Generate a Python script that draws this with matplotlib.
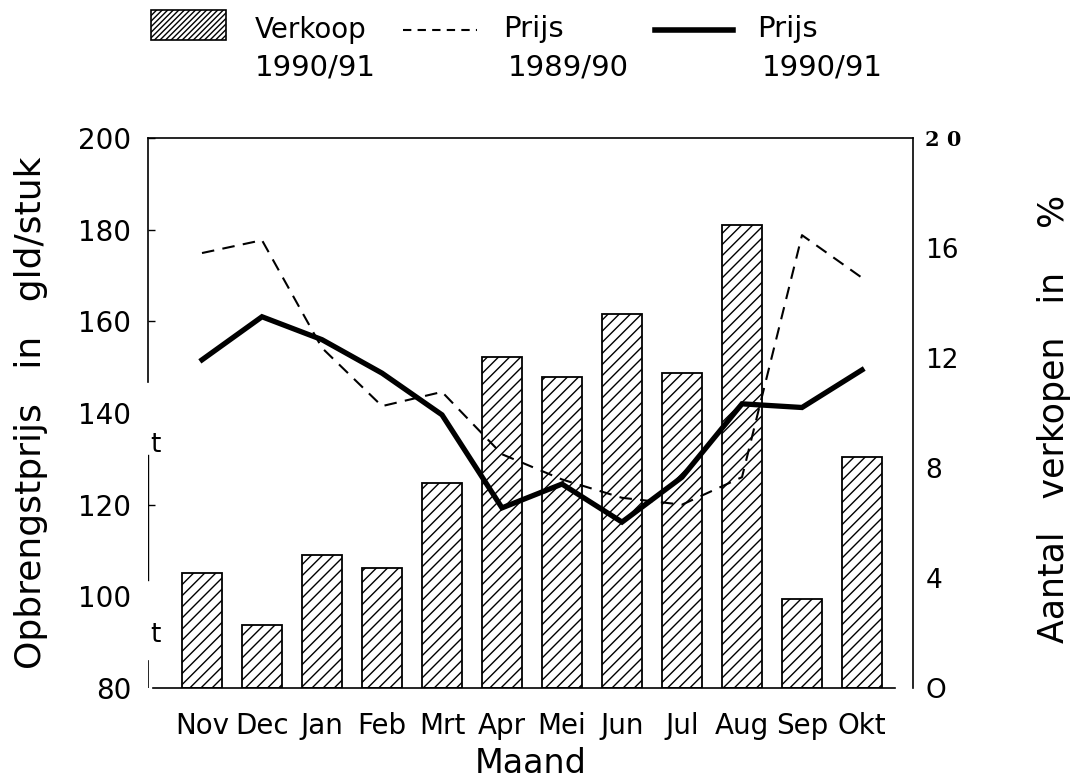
import matplotlib
matplotlib.use("Agg")
import matplotlib.pyplot as plt
from matplotlib.patches import Rectangle
from matplotlib.lines import Line2D

months = ['Nov', 'Dec', 'Jan', 'Feb', 'Mrt', 'Apr', 'Mei', 'Jun', 'Jul', 'Aug', 'Sep', 'Okt']
verkoop_9091 = [4.2, 2.3, 4.85, 4.35, 7.45, 12.05, 11.3, 13.6, 11.45, 16.85, 3.25, 8.4]
prijs_8990 = [174.9, 177.7, 154.2, 141.5, 144.6, 131.0, 125.5, 121.5, 120.0, 126.0, 178.8, 169.5]
prijs_9091 = [151.6, 161.0, 156.0, 148.7, 139.6, 119.3, 124.5, 116.2, 126.0, 142.0, 141.2, 149.4]
left_ticks = [80, 100, 120, 140, 160, 180, 200]
right_ticks = [0, 4, 8, 12, 16, 20]
right_labels = ['O', '4', '8', '12', '16', '2 0']

NARROW = ['Liberation Sans Narrow', 'DejaVu Sans Condensed', 'DejaVu Sans']
plt.rcParams['font.family'] = ['DejaVu Sans']

fig = plt.figure(figsize=(10.76, 7.8), dpi=100)
ax = fig.add_axes([148/1076, 1-688/780, (913-148)/1076, (688-138)/780])
ax2 = ax.twinx()

x = list(range(len(months)))

# bars (right axis)
plt.rcParams['hatch.linewidth'] = 1.0
ax2.bar(x, verkoop_9091, width=0.67, color='white', edgecolor='black',
        linewidth=1.3, hatch='///', zorder=2)
ax2.set_ylim(0, 20)
ax2.set_yticks(right_ticks)
ax2.set_yticklabels(right_labels)
ax2.tick_params(axis='y', length=0, pad=9, labelsize=19)
lab = ax2.get_yticklabels()[-1]
lab.set_fontfamily('DejaVu Serif')
lab.set_fontweight('bold')
lab.set_fontsize(15)
ax2.set_ylabel('Aantal   verkopen   in    %', fontsize=25)
ax2.yaxis.set_label_coords(1.162, 0.49)

# lines (left axis)
ax.set_zorder(ax2.get_zorder() + 1)
ax.patch.set_visible(False)
ax.plot(x, prijs_8990, color='black', linewidth=1.5, linestyle=(0, (6, 4)))
ax.plot(x, prijs_9091, color='black', linewidth=3.8, solid_joinstyle='miter')
ax.set_ylim(80, 200)
ax.set_xlim(-0.9, 11.85)
ax.set_yticks(left_ticks)
ax.tick_params(axis='y', direction='in', length=5, width=1, pad=12, labelsize=20)
ax.set_xticks(x)
ax.set_xticklabels(months, fontfamily=NARROW, fontsize=20)
ax.tick_params(axis='x', length=0, pad=17)
ax.set_xlabel('Maand', fontsize=24, labelpad=5)
ax.set_ylabel('Opbrengstprijs   in   gld/stuk', fontsize=26, labelpad=22)

# broken (scanned) left axis
for sp in ['left', 'right', 'top', 'bottom']:
    ax2.spines[sp].set_visible(False)
ax.spines['right'].set_visible(True)
ax.spines['left'].set_bounds(146.8, 200)
ax.spines['bottom'].set_bounds(-0.82, 11.55)
ax.axvline(-0.9, ymin=(103.6-80)/120, ymax=(130.8-80)/120, color='black', linewidth=1)
ax.axvline(-0.9, ymin=0, ymax=(86-80)/120, color='black', linewidth=1.2)
for i, t in enumerate(left_ticks):
    if t in (140, 100, 80):
        ax.yaxis.get_major_ticks()[i].tick1line.set_visible(False)
for sp in ax.spines.values():
    sp.set_linewidth(1.2)
ax.text(-0.78, 133, 't', fontsize=19, ha='center', va='center')
ax.text(-0.78, 91.5, 't', fontsize=19, ha='center', va='center')

# legend drawn at the top of the figure
def fx(px):
    return px / 1076
def fy(py):
    return 1 - py / 780

fig.patches.append(Rectangle((fx(151), fy(40)), fx(226) - fx(151), fy(10) - fy(40),
                             transform=fig.transFigure, facecolor='white',
                             edgecolor='black', linewidth=1.2, hatch='//////'))
fig.text(fx(255), fy(30), 'Verkoop', fontsize=20, va='center', ha='left')
fig.text(fx(255), fy(68), '1990/91', fontsize=21, va='center', ha='left', fontfamily=NARROW)
fig.lines.append(Line2D([fx(403), fx(477)], [fy(30), fy(30)], transform=fig.transFigure,
                        color='black', linewidth=1.5, linestyle=(0, (4, 3))))
fig.text(fx(503), fy(29), 'Prijs', fontsize=21, va='center', ha='left', fontfamily=NARROW)
fig.text(fx(508), fy(68), '1989/90', fontsize=21, va='center', ha='left', fontfamily=NARROW)
fig.lines.append(Line2D([fx(655), fx(733)], [fy(30), fy(30)], transform=fig.transFigure,
                        color='black', linewidth=4))
fig.text(fx(757), fy(29), 'Prijs', fontsize=21, va='center', ha='left', fontfamily=NARROW)
fig.text(fx(762), fy(68), '1990/91', fontsize=21, va='center', ha='left', fontfamily=NARROW)

fig.savefig('out.png', dpi=100)
